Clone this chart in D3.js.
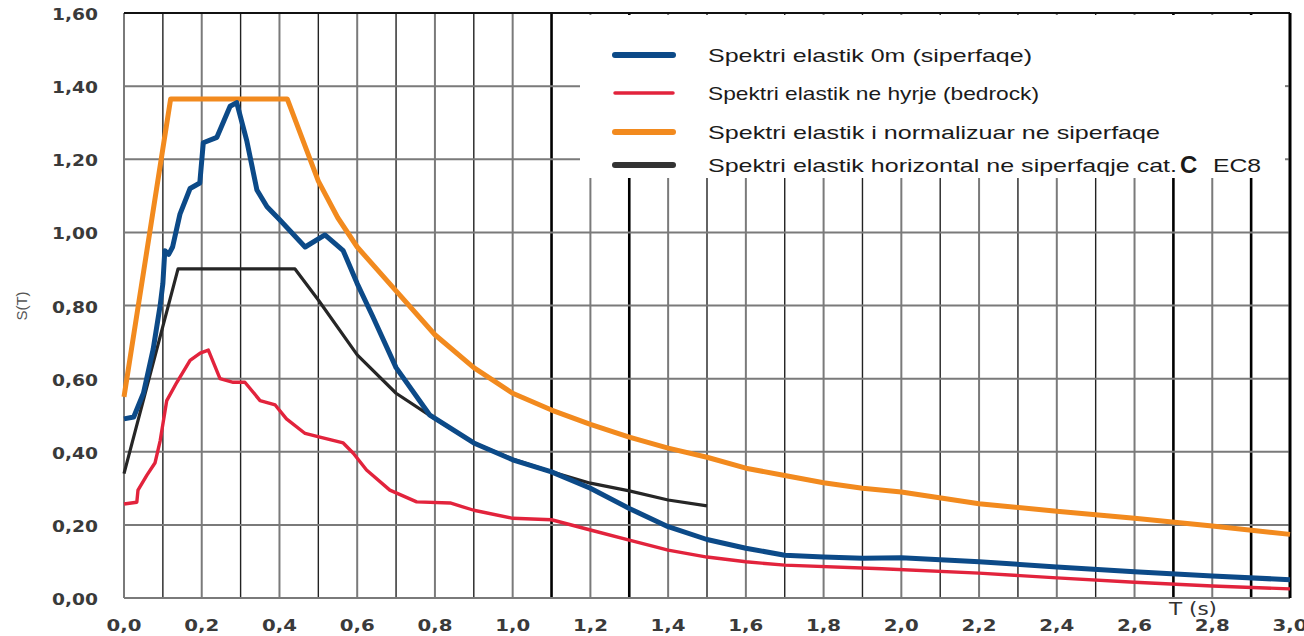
<!DOCTYPE html>
<html><head><meta charset="utf-8">
<script src="https://cdn.jsdelivr.net/npm/d3@7"></script>
<style>
html,body{margin:0;padding:0;background:#fff;}
svg{display:block;font-family:"Liberation Sans",Arial,sans-serif;}
</style></head>
<body><svg id="c" width="1304" height="636"></svg>
<script>
// ---- data (T [s], S(T)) ----
const seriesNames = [
  "Spektri elastik 0m (siperfaqe)",
  "Spektri elastik ne hyrje (bedrock)",
  "Spektri elastik i normalizuar ne siperfaqe",
  "Spektri elastik horizontal ne siperfaqje cat."
];
const surface0m = [
  [0,0.49],[0.025,0.495],[0.05,0.56],[0.075,0.68],[0.093,0.80],[0.10,0.86],[0.105,0.95],[0.115,0.94],[0.125,0.96],
  [0.144,1.05],[0.17,1.12],[0.195,1.135],[0.204,1.245],[0.239,1.26],[0.273,1.345],[0.29,1.355],
  [0.316,1.25],[0.342,1.116],[0.368,1.07],[0.40,1.035],[0.466,0.96],[0.517,0.993],[0.564,0.95],
  [0.60,0.86],[0.64,0.77],[0.70,0.63],[0.787,0.50],[0.90,0.424],[1.0,0.378],[1.1,0.345],
  [1.2,0.30],[1.3,0.245],[1.4,0.195],[1.5,0.16],[1.6,0.136],[1.7,0.117],[1.8,0.112],[1.9,0.109],
  [2.0,0.11],[2.2,0.099],[2.4,0.085],[2.6,0.072],[2.8,0.06],[3.0,0.05]
];
const bedrock = [
  [0,0.257],[0.033,0.262],[0.036,0.295],[0.059,0.336],[0.08,0.37],[0.093,0.43],[0.11,0.54],
  [0.136,0.59],[0.17,0.65],[0.196,0.67],[0.217,0.678],[0.247,0.60],[0.281,0.59],[0.311,0.59],
  [0.35,0.54],[0.389,0.528],[0.418,0.49],[0.466,0.45],[0.504,0.44],[0.564,0.424],[0.59,0.396],
  [0.624,0.35],[0.684,0.295],[0.753,0.263],[0.839,0.26],[0.9,0.24],[1.0,0.218],[1.1,0.214],
  [1.2,0.186],[1.3,0.158],[1.4,0.131],[1.5,0.112],[1.6,0.099],[1.7,0.09],[1.95,0.08],
  [2.2,0.068],[2.4,0.055],[2.6,0.043],[2.8,0.033],[3.0,0.025]
];
const normalized = [
  [0,0.55],[0.12,1.365],[0.42,1.365],[0.5,1.14],[0.55,1.04],[0.6,0.96],[0.7,0.84],[0.8,0.72],
  [0.9,0.63],[1.0,0.56],[1.1,0.514],[1.2,0.475],[1.3,0.44],[1.4,0.41],[1.5,0.385],[1.6,0.355],
  [1.7,0.335],[1.8,0.315],[1.9,0.30],[2.0,0.29],[2.2,0.258],[2.4,0.237],[2.6,0.218],[2.8,0.197],[3.0,0.174]
];
const ec8C = [
  [0,0.34],[0.139,0.90],[0.44,0.90],[0.5,0.815],[0.6,0.665],[0.7,0.56],[0.8,0.49],
  [0.9,0.424],[1.0,0.38],[1.1,0.345],[1.2,0.314],[1.3,0.293],[1.4,0.268],[1.5,0.252]
];
const xTicks = d3.range(0, 31, 2).map(d => d / 10);
const yTicks = [0, 0.2, 0.4, 0.6, 0.8, 1.0, 1.2, 1.4, 1.6];
const xGrid = d3.range(0, 31).map(d => d / 10);

// ---- layout ----
const svg = d3.select("#c");
const L = 124, R = 1290, T = 13, B = 598;
const x = d3.scaleLinear().domain([0, 3]).range([L, R]);
const y = d3.scaleLinear().domain([0, 1.6]).range([B, T]);
const fmt = (v, n) => v.toFixed(n).replace(".", ",");

const grid = svg.append("g");
const thick = [1.1, 1.3, 2.7, 2.9, 3.0];
const isThick = d => thick.some(t => Math.abs(t - d) < 1e-6);
// vertical grid
grid.selectAll("line.v").data(xGrid).join("line")
  .attr("x1", d => x(d)).attr("x2", d => x(d)).attr("y1", T).attr("y2", B)
  .attr("stroke", d => {
    if (isThick(d)) return "#000";
    const k = Math.round(d * 10);
    return k === 0 ? "#7a7a7a" : (k % 2 === 1 ? "#222" : "#7a7a7a");
  })
  .attr("stroke-width", d => isThick(d) ? 2.6 : (Math.round(d * 10) % 2 === 1 ? 1.4 : 2));

// legend background (covers grid)
svg.append("rect").attr("x", 582).attr("y", 15).attr("width", 702).attr("height", 163).attr("fill", "#fff");

// horizontal grid
const hg = svg.append("g");
hg.selectAll("line").data(yTicks).join("line")
  .attr("x1", L).attr("x2", d => (d === 1.4 || d === 1.2) ? 580 : R)
  .attr("y1", d => y(d)).attr("y2", d => y(d))
  .attr("stroke", d => d === 1.6 ? "#111" : "#7a7a7a").attr("stroke-width", 2);
// small stubs at right edge in legend area
hg.selectAll("line.s").data([1.4, 1.2]).join("line")
  .attr("x1", R - 5).attr("x2", R).attr("y1", d => y(d)).attr("y2", d => y(d))
  .attr("stroke", "#7a7a7a").attr("stroke-width", 2);
// right border over legend area
svg.append("line").attr("x1", R).attr("x2", R).attr("y1", T).attr("y2", B)
  .attr("stroke", "#000").attr("stroke-width", 2.6);

// lines
const line = d3.line().x(d => x(d[0])).y(d => y(d[1])).curve(d3.curveLinear);
const styles = [
  {data: bedrock, color: "#e2233c", w: 3.4},
  {data: ec8C, color: "#262626", w: 3.2},
  {data: normalized, color: "#f28a1e", w: 5},
  {data: surface0m, color: "#0c4a88", w: 5}
];
svg.append("g").selectAll("path").data(styles).join("path")
  .attr("d", d => line(d.data)).attr("fill", "none")
  .attr("stroke", d => d.color).attr("stroke-width", d => d.w)
  .attr("stroke-linejoin", "round").attr("stroke-linecap", "butt");

// tick labels
const tickFont = "'DejaVu Sans',Verdana,sans-serif";
svg.append("g").selectAll("text").data(yTicks).join("text")
  .attr("x", 98).attr("y", d => y(d) + 7).attr("text-anchor", "end")
  .attr("font-family", tickFont).attr("font-size", 16.5).attr("font-weight", "bold").attr("fill", "#3a3a3a")
  .attr("textLength", 46).attr("lengthAdjust", "spacingAndGlyphs")
  .text(d => fmt(d, 2));
svg.append("g").selectAll("text").data(xTicks).join("text")
  .attr("x", d => x(d) - 17.5).attr("y", 631).attr("text-anchor", "start")
  .attr("font-family", tickFont).attr("font-size", 16.5).attr("font-weight", "bold").attr("fill", "#3a3a3a")
  .attr("textLength", 35).attr("lengthAdjust", "spacingAndGlyphs")
  .text(d => fmt(d, 1));

svg.append("text").attr("transform", "translate(27,306) rotate(-90)")
  .attr("text-anchor", "middle").attr("font-size", 15).attr("fill", "#555").text("S(T)");
svg.append("text").attr("x", 1169).attr("y", 615)
  .attr("font-family", tickFont).attr("font-size", 18).attr("fill", "#333")
  .attr("textLength", 48).attr("lengthAdjust", "spacingAndGlyphs").text("T (s)");

// legend
const legColors = ["#0c4a88", "#e2233c", "#f28a1e", "#333"];
const legW = [6, 3.5, 6, 6];
const legY = [55, 93, 132, 165];
const legLen = [324, 331, 452, 469];
const lg = svg.append("g");
seriesNames.forEach((n, i) => {
  lg.append("line").attr("x1", 615).attr("x2", 673).attr("y1", legY[i]).attr("y2", legY[i])
    .attr("stroke", legColors[i]).attr("stroke-width", legW[i]).attr("stroke-linecap", "round");
  lg.append("text").attr("x", 708).attr("y", legY[i] + 7)
    .attr("font-size", 19).attr("fill", "#1a1a1a")
    .attr("textLength", legLen[i]).attr("lengthAdjust", "spacingAndGlyphs").text(n);
  if (i === 3) {
    lg.append("text").attr("x", 1180).attr("y", legY[i] + 8).attr("font-weight", "bold")
      .attr("font-size", 24).attr("fill", "#1a1a1a").text("C");
    lg.append("text").attr("x", 1213).attr("y", legY[i] + 7).attr("font-size", 19)
      .attr("fill", "#1a1a1a").attr("textLength", 48).attr("lengthAdjust", "spacingAndGlyphs").text("EC8");
  }
});
</script></body></html>
